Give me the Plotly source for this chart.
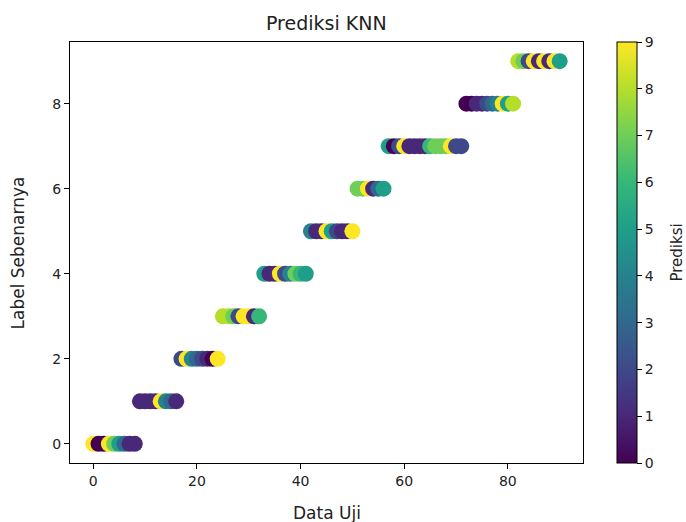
import plotly.graph_objects as go

# True label of each test sample (sorted), and predicted label
label_counts = [9, 8, 8, 8, 9, 9, 6, 15, 10, 9]
predictions = [
    9, 0, 0, 9, 7, 5, 3, 1, 1,            # label 0
    1, 1, 1, 1, 9, 4, 3, 1,               # label 1
    2, 9, 4, 3, 2, 1, 0, 9,               # label 2
    8, 8, 7, 2, 9, 9, 1, 6,               # label 3
    5, 1, 1, 9, 2, 4, 7, 6, 5,            # label 4
    4, 1, 1, 9, 5, 2, 1, 1, 9,            # label 5
    7, 7, 9, 1, 3, 5,                     # label 6
    5, 0, 2, 9, 1, 1, 1, 1, 6, 7, 7, 7, 9, 2, 2,  # label 7
    0, 0, 1, 1, 2, 3, 4, 9, 5, 8,         # label 8
    8, 7, 2, 9, 1, 9, 1, 9, 5,            # label 9
]
true_labels = [lab for lab, n in enumerate(label_counts) for _ in range(n)]
data_index = list(range(len(true_labels)))

x_ticks = [0, 20, 40, 60, 80]
y_ticks = [0, 2, 4, 6, 8]
cbar_ticks = list(range(10))

FONT = "DejaVu Sans"
TXT = "#222"
fig = go.Figure()
fig.add_trace(go.Scatter(
    x=data_index, y=true_labels, mode="markers",
    marker=dict(
        size=16, color=predictions, colorscale="Viridis", cmin=0, cmax=9,
        line=dict(width=0),
        colorbar=dict(
            x=(617 - 70) / 513, xanchor="left", xpad=0,
            y=0.5, yanchor="middle", ypad=0, len=1, lenmode="fraction",
            thickness=20, outlinecolor="black", outlinewidth=1,
            ticks="outside", ticklen=5, tickcolor="black",
            tickvals=cbar_ticks, tickfont=dict(family=FONT, size=14, color=TXT),
        ),
    ),
    showlegend=False,
))

axis_common = dict(
    showline=True, linecolor="black", linewidth=1, mirror=True,
    ticks="outside", ticklen=5, tickcolor="black", showgrid=False, zeroline=False,
    tickfont=dict(family=FONT, size=14, color=TXT),
)
fig.update_xaxes(range=[-4.5, 94.5], tickvals=x_ticks, **axis_common)
fig.update_yaxes(range=[-0.45, 9.45], tickvals=y_ticks, **axis_common)

fig.update_layout(
    width=686, height=522,
    margin=dict(l=70, r=103, t=42, b=59, autoexpand=False),
    plot_bgcolor="white", paper_bgcolor="white",
    annotations=[
        dict(text="Prediksi KNN", xref="paper", yref="paper", x=0.5, y=1,
             xanchor="center", yanchor="bottom", yshift=6, showarrow=False,
             font=dict(family=FONT, size=19, color=TXT)),
        dict(text="Data Uji", xref="paper", yref="paper", x=0.5, y=0,
             xanchor="center", yanchor="top", yshift=-38, showarrow=False,
             font=dict(family=FONT, size=17, color=TXT)),
        dict(text="Label Sebenarnya", xref="paper", yref="paper", x=0, y=0.5,
             xanchor="right", yanchor="middle", xshift=-41, textangle=-90, showarrow=False,
             font=dict(family=FONT, size=17, color=TXT)),
        dict(text="Prediksi", xref="paper", yref="paper", x=1, y=0.5,
             xanchor="left", yanchor="middle", xshift=82, textangle=-90, showarrow=False,
             font=dict(family=FONT, size=15, color=TXT)),
    ],
)

fig.write_html("out.html", config={"displayModeBar": False},
               post_script="document.body.style.margin='0';document.body.style.padding='0';")
